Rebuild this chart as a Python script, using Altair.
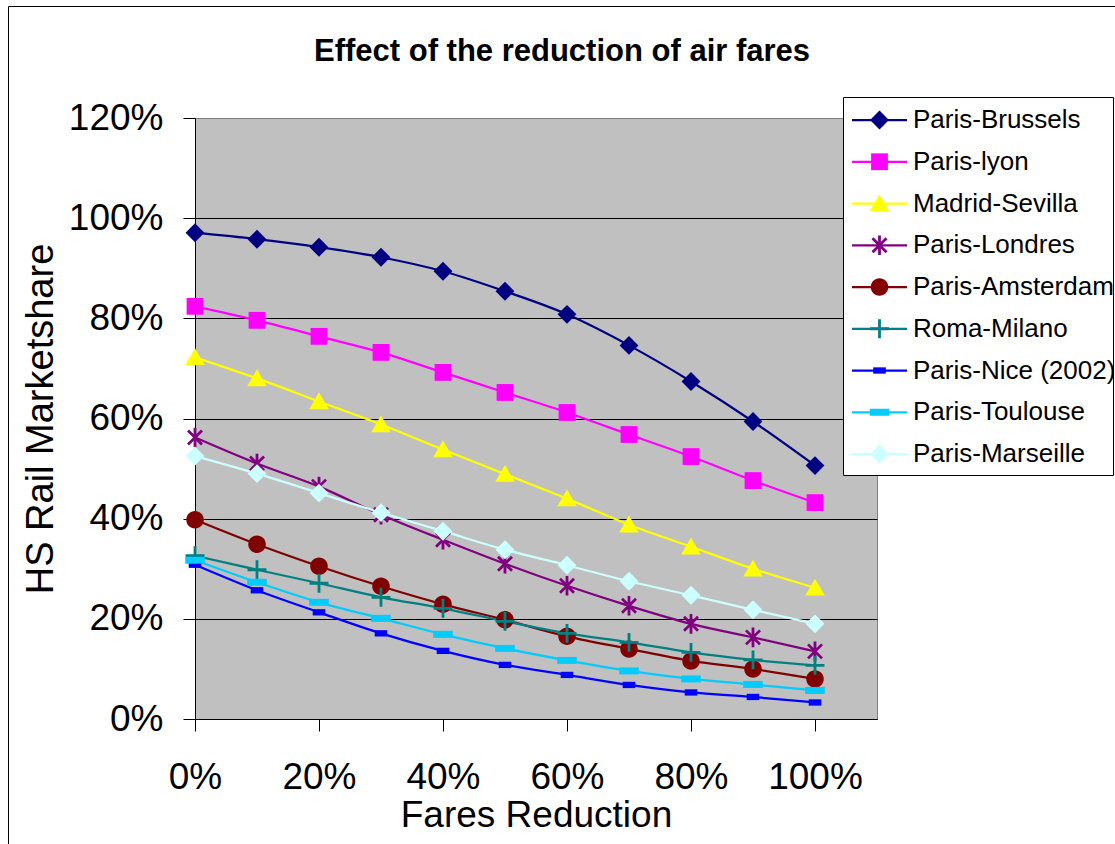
import altair as alt
import pandas as pd

FONT = "Liberation Sans"
TITLE = "Effect of the reduction of air fares"

# Fare reduction steps (x) and rail market share per route (in %)
reduction = [0.0, 0.1, 0.2, 0.3, 0.4, 0.5, 0.6, 0.7, 0.8, 0.9, 1.0]

series = [
    "Paris-Brussels", "Paris-lyon", "Madrid-Sevilla", "Paris-Londres",
    "Paris-Amsterdam", "Roma-Milano", "Paris-Nice (2002)", "Paris-Toulouse",
    "Paris-Marseille",
]
colors = [
    "#000080", "#FF00FF", "#FFFF00", "#800080", "#800000",
    "#008080", "#0000FF", "#00CCFF", "#CCFFFF",
]

paris_brussels = [97.1, 95.8, 94.2, 92.2, 89.4, 85.4, 80.8, 74.6, 67.4, 59.4, 50.6]
paris_lyon = [82.4, 79.6, 76.4, 73.2, 69.2, 65.2, 61.2, 56.8, 52.4, 47.6, 43.2]
madrid_sevilla = [72.2, 68.0, 63.4, 58.8, 53.8, 48.9, 44.0, 38.8, 34.4, 30.0, 26.2]
paris_londres = [56.2, 51.0, 46.4, 40.8, 35.8, 31.0, 26.6, 22.6, 19.0, 16.3, 13.5]
paris_amsterdam = [39.8, 34.9, 30.5, 26.5, 22.9, 19.8, 16.5, 14.0, 11.6, 10.0, 8.0]
roma_milano = [32.6, 29.8, 27.1, 24.3, 22.1, 19.5, 17.1, 15.3, 13.3, 11.8, 10.7]
paris_nice = [30.8, 25.7, 21.3, 17.1, 13.6, 10.8, 8.8, 6.8, 5.3, 4.4, 3.3]
paris_toulouse = [31.7, 27.3, 23.3, 20.1, 16.9, 14.1, 11.7, 9.6, 8.0, 6.9, 5.7]
paris_marseille = [52.5, 49.0, 45.1, 41.2, 37.5, 33.8, 30.7, 27.5, 24.7, 21.8, 19.0]

values_by_series = [
    paris_brussels, paris_lyon, madrid_sevilla, paris_londres, paris_amsterdam,
    roma_milano, paris_nice, paris_toulouse, paris_marseille,
]

# Marker glyphs (unit paths, all filled)
diamond = "M0,-1.35L1.35,0L0,1.35L-1.35,0Z"
square = "M-1.2,-1.2H1.2V1.2H-1.2Z"
triangle = "M0,-1.3L1.4,1.1L-1.4,1.1Z"
asterisk = (
    "M-0.2,-1.4H0.2V1.4H-0.2Z"
    "M-0.86,-1.14L1.14,0.86L0.86,1.14L-1.14,-0.86Z"
    "M-1.14,0.86L0.86,-1.14L1.14,-0.86L-0.86,1.14Z"
)
plus = "M-0.2,-1.35H0.2V1.35H-0.2ZM-1.35,-0.2H1.35V0.2H-1.35Z"
circle = "M-1.25,0A1.25,1.25,0,1,1,1.25,0A1.25,1.25,0,1,1,-1.25,0Z"
short_dash = "M-0.9,-0.45H0.9V0.45H-0.9Z"
long_dash = "M-1.4,-0.5H1.4V0.5H-1.4Z"
shapes = [diamond, square, triangle, asterisk, circle, plus, short_dash, long_dash, diamond]

rows = []
for name, vals in zip(series, values_by_series):
    for r, v in zip(reduction, vals):
        rows.append({"series": name, "reduction": r, "share": v / 100.0})
df = pd.DataFrame(rows)

color_enc = alt.Color("series:N", scale=alt.Scale(domain=series, range=colors), legend=None)
shape_enc = alt.Shape("series:N", scale=alt.Scale(domain=series, range=shapes), legend=None)

x_enc = alt.X(
    "reduction:Q",
    scale=alt.Scale(domain=[0, 1.1], nice=False, zero=False),
    axis=alt.Axis(
        values=[0, 0.2, 0.4, 0.6, 0.8, 1.0], format=".0%", title="Fares Reduction",
        grid=False, tickSize=12, tickColor="black", domainColor="black",
        labelFont=FONT, labelFontSize=37, labelColor="black", labelPadding=28,
        labelFlush=False,
        titleFont=FONT, titleFontSize=37, titleFontWeight="normal", titleColor="black",
        titleY=107, titleBaseline="alphabetic",
    ),
)
y_enc = alt.Y(
    "share:Q",
    scale=alt.Scale(domain=[0, 1.2], nice=False),
    axis=alt.Axis(
        values=[0, 0.2, 0.4, 0.6, 0.8, 1.0, 1.2], format=".0%", title="HS Rail Marketshare",
        grid=True,
        gridColor={"condition": {"test": "datum.value > 1.1", "value": "#808080"}, "value": "black"},
        gridWidth=1,
        tickSize=12, tickColor="black", domainColor="black",
        labelFont=FONT, labelFontSize=37, labelColor="black", labelPadding=20,
        labelFlush=False,
        titleFont=FONT, titleFontSize=38, titleFontWeight="normal", titleColor="black",
        titleAngle=270, titleX=-143, titleY=300.5, titleBaseline="alphabetic",
    ),
)

base = alt.Chart(df)
lines = base.mark_line(strokeWidth=2.25, interpolate="monotone").encode(
    x=x_enc, y=y_enc, color=color_enc
)
points = base.mark_point(filled=True, size=196, opacity=1, strokeWidth=0).encode(
    x=x_enc, y=y_enc, color=color_enc, shape=shape_enc
)
plot = alt.layer(lines, points)

# Legend panel on the right
legend_df = pd.DataFrame({"series": series})
legend_y = alt.Y(
    "series:N",
    scale=alt.Scale(type="point", domain=series, range=[2, 336], padding=0),
    axis=None,
)
single = pd.DataFrame({"k": [0]})
legend_box = alt.Chart(single).mark_rect(
    fill="white", stroke="black", strokeWidth=1
).encode(x=alt.value(648.5), x2=alt.value(918.5), y=alt.value(-20.5), y2=alt.value(357.5))
legend_lines = alt.Chart(legend_df).mark_rule(strokeWidth=2.25).encode(
    x=alt.value(657), x2=alt.value(712), y=legend_y, color=color_enc
)
legend_marks = alt.Chart(legend_df).mark_point(
    filled=True, size=196, opacity=1, strokeWidth=0
).encode(x=alt.value(684.5), y=legend_y, color=color_enc, shape=shape_enc)
legend_text = alt.Chart(legend_df).mark_text(
    align="left", baseline="middle", font=FONT, fontSize=26, color="black"
).encode(x=alt.value(718), y=legend_y, text="series:N")
legend = alt.layer(legend_box, legend_lines, legend_marks, legend_text)

# Outer chart frame and title
frame = alt.Chart(single).mark_rect(
    fill="transparent", stroke="black", strokeWidth=1
).encode(x=alt.value(-186.5), x2=alt.value(930), y=alt.value(-111.5), y2=alt.value(740))
title = alt.Chart(pd.DataFrame({"title": [TITLE]})).mark_text(
    font=FONT, fontSize=31, fontWeight="bold", align="center",
    baseline="alphabetic", color="black",
).encode(x=alt.value(367), y=alt.value(-57), text="title:N")

chart = (
    alt.layer(frame, title, plot, legend)
    .resolve_scale(y="independent")
    .properties(
        width=682,
        height=601,
        padding={"left": 195, "top": 118, "right": 238, "bottom": 125},
        autosize=alt.AutoSizeParams(type="none"),
        background="white",
    )
    .configure_view(fill="#C0C0C0", stroke="#808080", strokeWidth=1)
)

chart.save("out.html", embed_options={"renderer": "svg", "actions": False})
